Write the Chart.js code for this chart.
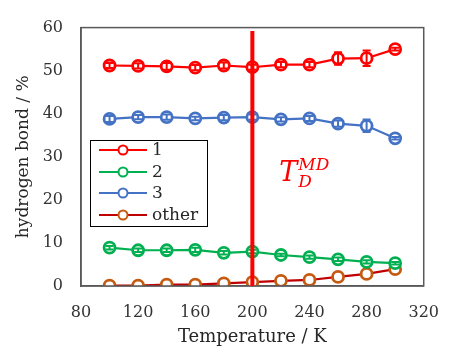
<!DOCTYPE html>
<html>
<head>
<meta charset="utf-8">
<script src="https://cdn.jsdelivr.net/npm/chart.js@4.4.1/dist/chart.umd.min.js"></script>
<style>
  html, body { margin: 0; padding: 0; background: #fff; }
  #wrap { width: 456px; height: 354px; position: relative; }
</style>
</head>
<body>
<div id="wrap"><canvas id="c" width="456" height="354"></canvas></div>
<script>
// ---- data ----
const temperatures = [100, 120, 140, 160, 180, 200, 220, 240, 260, 280, 300];
const series1 = [51.2, 51.1, 51.0, 50.7, 51.2, 50.8, 51.4, 51.4, 52.8, 52.9, 55.0];
const series1Err = [0.6, 0.6, 0.8, 0.6, 0.7, 0.6, 0.6, 0.6, 1.45, 1.8, 0.3];
const series2 = [8.9, 8.3, 8.3, 8.4, 7.7, 8.0, 7.2, 6.7, 6.2, 5.6, 5.3];
const series2Err = [0.4, 0.4, 0.4, 0.5, 0.4, 0.4, 0.3, 0.4, 0.4, 0.4, 0.3];
const series3 = [38.8, 39.2, 39.2, 38.9, 39.1, 39.2, 38.7, 38.9, 37.7, 37.2, 34.3];
const series3Err = [0.7, 0.5, 0.6, 0.4, 0.6, 0.6, 0.5, 0.6, 0.7, 1.45, 0.3];
const seriesOther = [0.1, 0.1, 0.3, 0.3, 0.6, 0.9, 1.2, 1.4, 2.1, 2.8, 3.9];
const seriesOtherErr = [0.1, 0.1, 0.1, 0.1, 0.1, 0.1, 0.1, 0.1, 0.1, 0.1, 0.1];
const seriesLabels = ['1', '2', '3', 'other'];
const xTicks = [80, 120, 160, 200, 240, 280, 320];
const yTicks = [0, 10, 20, 30, 40, 50, 60];
const tdmdTemperature = 200;
const tdmdTop = 59.2;
const xTitle = 'Temperature / K';
const yTitle = 'hydrogen bond / %';

const FONT = "'DejaVu Serif', serif";

function pts(vals, errs) {
  return temperatures.map((t, i) => ({ x: t, y: vals[i], err: errs[i] }));
}

const styles = [
  { line: '#FF0000', marker: '#FF0000' },
  { line: '#00B050', marker: '#00B050' },
  { line: '#4472C4', marker: '#4472C4' },
  { line: '#C00000', marker: '#C55A11' }
];

const seriesData = [
  pts(series1, series1Err),
  pts(series2, series2Err),
  pts(series3, series3Err),
  pts(seriesOther, seriesOtherErr)
];

const datasets = seriesData.map((d, i) => ({
  label: seriesLabels[i],
  data: d,
  borderColor: styles[i].line,
  backgroundColor: styles[i].line,
  pointBorderColor: styles[i].marker,
  pointBackgroundColor: '#ffffff',
  pointRadius: 5.5,
  pointBorderWidth: 2.8,
  borderWidth: 2.2,
  tension: 0,
  showErrors: i < 3
}));

const errorBarPlugin = {
  id: 'errorBars',
  afterDatasetsDraw(chart) {
    const ctx = chart.ctx;
    const xs = chart.scales.x, ys = chart.scales.y;
    chart.data.datasets.forEach((ds, di) => {
      if (!ds.showErrors) return;
      ctx.save();
      ctx.strokeStyle = ds.borderColor;
      ctx.lineWidth = 2;
      ds.data.forEach(p => {
        const px = xs.getPixelForValue(p.x);
        const y1 = ys.getPixelForValue(p.y - p.err);
        const y2 = ys.getPixelForValue(p.y + p.err);
        ctx.beginPath();
        ctx.moveTo(px, y1); ctx.lineTo(px, y2);
        ctx.moveTo(px - 4, y1); ctx.lineTo(px + 4, y1);
        ctx.moveTo(px - 4, y2); ctx.lineTo(px + 4, y2);
        ctx.stroke();
      });
      ctx.restore();
    });
  }
};

const overlayPlugin = {
  id: 'overlay',
  afterDraw(chart) {
    const ctx = chart.ctx;
    const xs = chart.scales.x, ys = chart.scales.y;
    const a = chart.chartArea;
    ctx.save();
    // frame
    ctx.strokeStyle = '#595959';
    ctx.lineWidth = 1.5;
    ctx.strokeRect(a.left, a.top, a.right - a.left, a.bottom - a.top);

    // T_D^MD vertical line
    const vx = xs.getPixelForValue(tdmdTemperature);
    ctx.strokeStyle = '#FF0000';
    ctx.lineWidth = 4;
    ctx.beginPath();
    ctx.moveTo(vx, ys.getPixelForValue(0));
    ctx.lineTo(vx, ys.getPixelForValue(tdmdTop));
    ctx.stroke();

    // annotation
    ctx.fillStyle = '#FF0000';
    ctx.textBaseline = 'alphabetic';
    ctx.textAlign = 'left';
    const tx = vx + 27;
    ctx.font = "italic 27px " + FONT;
    ctx.fillText('T', tx, 181);
    ctx.font = "italic 17px " + FONT;
    ctx.fillText('MD', tx + 19, 170);
    ctx.fillText('D', tx + 19, 187);

    // legend
    const lx = a.left + 9, ly = 140, lw = 117, lh = 86;
    ctx.fillStyle = '#ffffff';
    ctx.fillRect(lx, ly, lw, lh);
    ctx.strokeStyle = '#000000';
    ctx.lineWidth = 1;
    ctx.strokeRect(lx + 0.5, ly + 0.5, lw, lh);
    const rows = [150, 172, 193, 215];
    chart.data.datasets.forEach((ds, i) => {
      const y = rows[i];
      ctx.strokeStyle = ds.borderColor;
      ctx.lineWidth = 2.2;
      ctx.beginPath();
      ctx.moveTo(lx + 9, y); ctx.lineTo(lx + 57, y);
      ctx.stroke();
      ctx.beginPath();
      ctx.arc(lx + 33, y, 4.5, 0, Math.PI * 2);
      ctx.fillStyle = '#ffffff';
      ctx.fill();
      ctx.strokeStyle = ds.pointBorderColor;
      ctx.lineWidth = 2;
      ctx.stroke();
      ctx.fillStyle = '#262626';
      ctx.font = "17px " + FONT;
      ctx.textBaseline = 'middle';
      ctx.fillText(ds.label, lx + 62, y + 1);
    });
    ctx.restore();
  }
};

new Chart(document.getElementById('c'), {
  type: 'line',
  data: { datasets },
  plugins: [errorBarPlugin, overlayPlugin],
  options: {
    responsive: false,
    animation: false,
    events: [],
    layout: { padding: { top: 24, right: 17, left: 0, bottom: 0 } },
    plugins: { legend: { display: false }, tooltip: { enabled: false } },
    scales: {
      x: {
        type: 'linear',
        min: xTicks[0], max: xTicks[xTicks.length - 1],
        afterBuildTicks(s) { s.ticks = xTicks.map(v => ({ value: v })); },
        afterFit(s) { s.height = 68; },
        grid: { display: false, drawTicks: false },
        border: { display: true, color: '#595959', width: 1.5 },
        ticks: { padding: 17, color: '#333333', font: { family: FONT, size: 16 } },
        title: { display: true, text: xTitle, color: '#262626',
                 font: { family: FONT, size: 18 }, padding: { top: 0, bottom: 6 } }
      },
      y: {
        type: 'linear',
        min: yTicks[0], max: yTicks[yTicks.length - 1],
        afterBuildTicks(s) { s.ticks = yTicks.map(v => ({ value: v })); },
        afterFit(s) { s.width = 81; },
        grid: { display: false, drawTicks: false },
        border: { display: true, color: '#595959', width: 1.5 },
        ticks: { padding: 18, color: '#333333', font: { family: FONT, size: 16 } },
        title: { display: true, text: yTitle, color: '#262626',
                 font: { family: FONT, size: 17 }, padding: { top: 13, bottom: 0 } }
      }
    }
  }
});
</script>
</body>
</html>
